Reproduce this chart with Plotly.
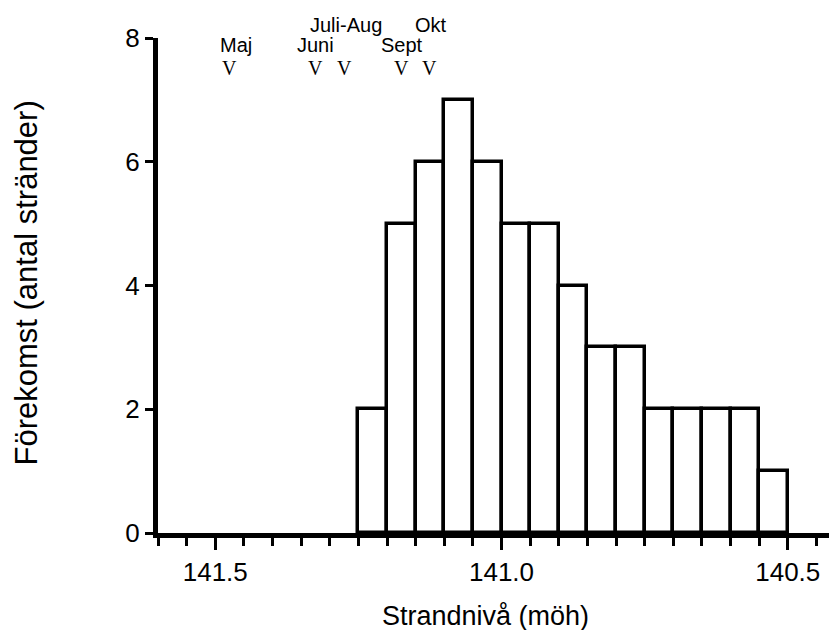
import plotly.graph_objects as go

bin_centers = [141.225, 141.175, 141.125, 141.075, 141.025, 140.975, 140.925,
               140.875, 140.825, 140.775, 140.725, 140.675, 140.625, 140.575, 140.525]
counts = [2, 5, 6, 7, 6, 5, 5, 4, 3, 3, 2, 2, 2, 2, 1]

month_labels = ["Maj", "Juni", "Juli-Aug", "Sept", "Okt"]
month_marker_x = [141.475, 141.325, 141.275, 141.175, 141.125]
month_label_x = [141.463, 141.325, 141.272, 141.174, 141.123]
month_label_row = [0, 0, 1, 0, 1]

fig = go.Figure()
fig.add_trace(go.Bar(
    x=bin_centers, y=counts, width=0.05,
    marker=dict(color="white", line=dict(color="black", width=3.5)),
    showlegend=False, hoverinfo="skip",
))

row_y = [0.985, 1.026]
for lab, lx, mx, row in zip(month_labels, month_label_x, month_marker_x, month_label_row):
    fig.add_annotation(x=lx, y=row_y[row], text=lab, showarrow=False,
                       xref="x", yref="paper", yanchor="middle",
                       font=dict(family="Liberation Sans", size=20, color="black"))
    fig.add_annotation(x=mx, y=0.939, text="V", showarrow=False,
                       xref="x", yref="paper", yanchor="middle",
                       font=dict(family="Liberation Serif", size=20, color="black"))

# axis titles
fig.add_annotation(x=0.327, y=-0.167, xref="paper", yref="paper",
                   text="Strandnivå (möh)", showarrow=False,
                   xanchor="left", yanchor="middle",
                   font=dict(family="Liberation Sans", size=27, color="black"))
fig.add_annotation(x=-0.193, y=0.506, xref="paper", yref="paper",
                   text="Förekomst (antal stränder)", showarrow=False,
                   textangle=-90, xanchor="center", yanchor="middle",
                   font=dict(family="Liberation Sans", size=31, color="black"))

fig.update_layout(
    width=829, height=622,
    margin=dict(l=150, r=0, t=30, b=97),
    paper_bgcolor="white", plot_bgcolor="white",
    bargap=0,
    font=dict(family="Liberation Sans", color="black"),
    xaxis=dict(
        range=[141.6, 140.414], autorange=False,
        tick0=141.5, dtick=0.5, tickformat=".1f",
        ticks="outside", ticklen=12, tickwidth=3, tickcolor="black",
        showline=True, linecolor="black", linewidth=5,
        showgrid=False, zeroline=False,
        tickfont=dict(size=26, family="Liberation Sans", color="black"),
        minor=dict(dtick=0.05, tick0=141.5, ticks="outside", ticklen=8,
                   tickwidth=3, tickcolor="black", showgrid=False),
    ),
    yaxis=dict(
        range=[0, 8], autorange=False,
        tick0=0, dtick=2,
        ticks="outside", ticklen=8, tickwidth=3, tickcolor="black",
        showline=True, linecolor="black", linewidth=5,
        showgrid=False, zeroline=False,
        tickfont=dict(size=26, family="Liberation Sans", color="black"),
    ),
)

fig.write_html("out.html")
